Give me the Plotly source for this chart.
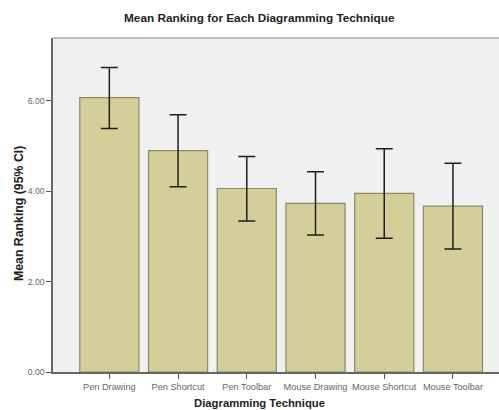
import plotly.graph_objects as go

techniques = ["Pen Drawing", "Pen Shortcut", "Pen Toolbar",
              "Mouse Drawing", "Mouse Shortcut", "Mouse Toolbar"]
mean_rank = [6.07, 4.90, 4.06, 3.73, 3.95, 3.67]
ci_upper = [6.74, 5.69, 4.77, 4.43, 4.94, 4.62]
ci_lower = [5.39, 4.10, 3.34, 3.03, 2.96, 2.72]
y_ticks = [0, 2, 4, 6]
y_tick_text = ["0.00", "2.00", "4.00", "6.00"]

err_plus = [u - m for u, m in zip(ci_upper, mean_rank)]
err_minus = [m - l for m, l in zip(mean_rank, ci_lower)]
xpos = list(range(len(techniques)))

W, H = 499, 410
ML, MR, MT, MB = 53, 0, 38, 38

fig = go.Figure()
fig.add_trace(go.Bar(
    x=xpos, y=mean_rank, width=0.86,
    marker=dict(color="#d4cf98", line=dict(color="#8a876a", width=1.2)),
    error_y=dict(type="data", symmetric=False, array=err_plus, arrayminus=err_minus,
                 color="#1e1e1e", thickness=1.5, width=8.5),
    showlegend=False,
))

title_font = dict(family="Liberation Sans, Arial", color="#222")

fig.update_layout(
    width=W, height=H,
    margin=dict(l=ML, r=MR, t=MT, b=MB),
    paper_bgcolor="white", plot_bgcolor="#f0f0f0",
    font=dict(family="Liberation Sans, Arial", color="#222"),
    xaxis=dict(range=[-0.82, 5.67], tickmode="array", tickvals=xpos, ticktext=techniques,
               ticks="outside", ticklen=5, tickcolor="#555", tickwidth=1,
               tickfont=dict(size=9.2, color="#666"),
               showgrid=False, zeroline=False, showline=True, linecolor="#666", linewidth=1.5),
    yaxis=dict(range=[0, 7.39], tickmode="array", tickvals=y_ticks, ticktext=y_tick_text,
               ticks="outside", ticklen=5, tickcolor="#555", tickwidth=1,
               tickfont=dict(size=8.6, color="#666"),
               showgrid=False, zeroline=False, showline=True, linecolor="#666", linewidth=1.5),
    shapes=[dict(type="line", xref="paper", yref="paper", x0=0, x1=1, y0=1, y1=1,
                 line=dict(color="#aaaaaa", width=1.5))],
)

plot_w = W - ML - MR
plot_h = H - MT - MB


def px_x(px):
    return (px - ML) / plot_w


def px_y(py):
    return (H - MB - py) / plot_h


fig.add_annotation(text="<b>Mean Ranking for Each Diagramming Technique</b>",
                   xref="paper", yref="paper", x=px_x(259), y=px_y(18),
                   xanchor="center", yanchor="middle", showarrow=False,
                   font=dict(size=11.8, **title_font))
fig.add_annotation(text="<b>Diagramming Technique</b>",
                   xref="paper", yref="paper", x=px_x(259), y=px_y(403),
                   xanchor="center", yanchor="middle", showarrow=False,
                   font=dict(size=11.3, **title_font))
fig.add_annotation(text="<b>Mean Ranking (95% CI)</b>",
                   xref="paper", yref="paper", x=px_x(19), y=px_y(214),
                   xanchor="center", yanchor="middle", showarrow=False, textangle=-90,
                   font=dict(size=12.3, **title_font))

fig.write_html("out.html")
